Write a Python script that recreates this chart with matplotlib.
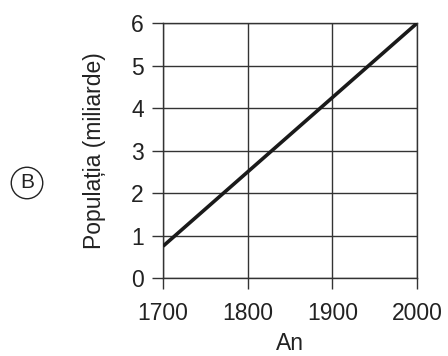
import matplotlib
matplotlib.use("Agg")
from matplotlib import pyplot as plt

# values
years = [1700, 2000]
population = [0.75, 6.0]
x_ticks = [1700, 1800, 1900, 2000]
y_ticks = [0, 1, 2, 3, 4, 5, 6]

plt.rcParams["font.family"] = ["Liberation Sans", "DejaVu Sans"]
text_color = "#222222"
grid_color = "#333333"

fig = plt.figure(figsize=(4.48, 3.56), dpi=100)
ax = fig.add_axes([0.364, 0.219, 0.567, 0.716])

ax.plot(years, population, color="#1a1a1a", linewidth=2.6, solid_capstyle="butt", zorder=3)

ax.set_xlim(1700, 2000)
ax.set_ylim(0, 6)
ax.set_xticks(x_ticks)
ax.set_yticks(y_ticks)
ax.grid(True, color=grid_color, linewidth=1.0)
for spine in ax.spines.values():
    spine.set_color(grid_color)
    spine.set_linewidth(1.0)
ax.tick_params(axis="both", direction="out", length=8, width=1.0, color=grid_color,
               labelsize=16.5, labelcolor=text_color)
ax.tick_params(axis="x", pad=9)
ax.tick_params(axis="y", pad=6)

ax.set_xlabel("An", fontsize=16.5, color=text_color, labelpad=5)
ax.set_ylabel("Populația (miliarde)", fontsize=16.5, color=text_color, labelpad=18)

fig.text(27 / 448, 1 - 183 / 356, "B", fontsize=15, color=text_color, ha="center", va="center",
         bbox=dict(boxstyle="circle,pad=0.3", facecolor="white", edgecolor=text_color, linewidth=1.0))

fig.savefig("out.png", dpi=100)
